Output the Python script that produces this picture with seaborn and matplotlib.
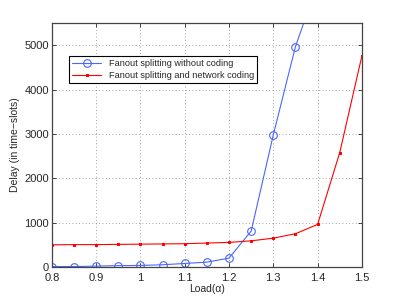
import numpy as np
import pandas as pd
import matplotlib
matplotlib.use("Agg")
import matplotlib.pyplot as plt
import seaborn as sns

load = [0.8, 0.85, 0.9, 0.95, 1.0, 1.05, 1.1, 1.15, 1.2, 1.25, 1.3, 1.35, 1.4]
delay_split = [10, 10, 20, 30, 35, 50, 80, 110, 200, 810, 2980, 4970, 6400]

load_nc = [0.8, 0.85, 0.9, 0.95, 1.0, 1.05, 1.1, 1.15, 1.2, 1.25, 1.3, 1.35, 1.4, 1.45, 1.5]
delay_nc = [500, 505, 505, 510, 515, 520, 525, 540, 555, 590, 650, 750, 960, 2580, 4760]

sns.set_style("ticks")
plt.rcParams['font.family'] = ['Liberation Sans', 'DejaVu Sans']

fig = plt.figure(figsize=(3.99, 3.0), dpi=100)
ax = fig.add_axes([0.130, 0.110, 0.777, 0.813])

sns.lineplot(x=load, y=delay_split, ax=ax, color='#4a66ff', linewidth=0.8,
             marker='o', markersize=5.5, markerfacecolor='none', markeredgecolor='#4a66ff',
             markeredgewidth=0.8, label='Fanout splitting without coding')
sns.lineplot(x=load_nc, y=delay_nc, ax=ax, color='red', linewidth=0.8,
             marker='s', markersize=1.8, markeredgecolor='red',
             label='Fanout splitting and network coding')

ax.set_xlim(0.8, 1.5)
ax.set_ylim(0, 5500)
ax.set_xticks([0.8, 0.9, 1.0, 1.1, 1.2, 1.3, 1.4, 1.5])
ax.set_xticklabels(['0.8', '0.9', '1', '1.1', '1.2', '1.3', '1.4', '1.5'])
ax.set_yticks([0, 1000, 2000, 3000, 4000, 5000])
ax.tick_params(labelsize=8, direction='in', length=3, width=0.6, top=True, right=True, pad=2)
ax.tick_params(axis='x', pad=4)
ax.grid(True, linestyle=(0, (1, 3)), color='#888888', linewidth=0.6)
for s in ax.spines.values():
    s.set_linewidth(0.9)
    s.set_color('#444444')
ax.set_xlabel('Load(\u03b1)', fontsize=7.5, labelpad=1)
ax.set_ylabel('Delay (in time\u2212slots)', fontsize=7.5, labelpad=3)

leg = ax.legend(loc='upper left', bbox_to_anchor=(0.04, 0.885), fontsize=6.6, frameon=True,
                fancybox=False, framealpha=1, edgecolor='black', handlelength=3.2,
                borderpad=0.35, labelspacing=0.35)
leg.get_frame().set_linewidth(0.8)

fig.savefig('out.png', dpi=100)
